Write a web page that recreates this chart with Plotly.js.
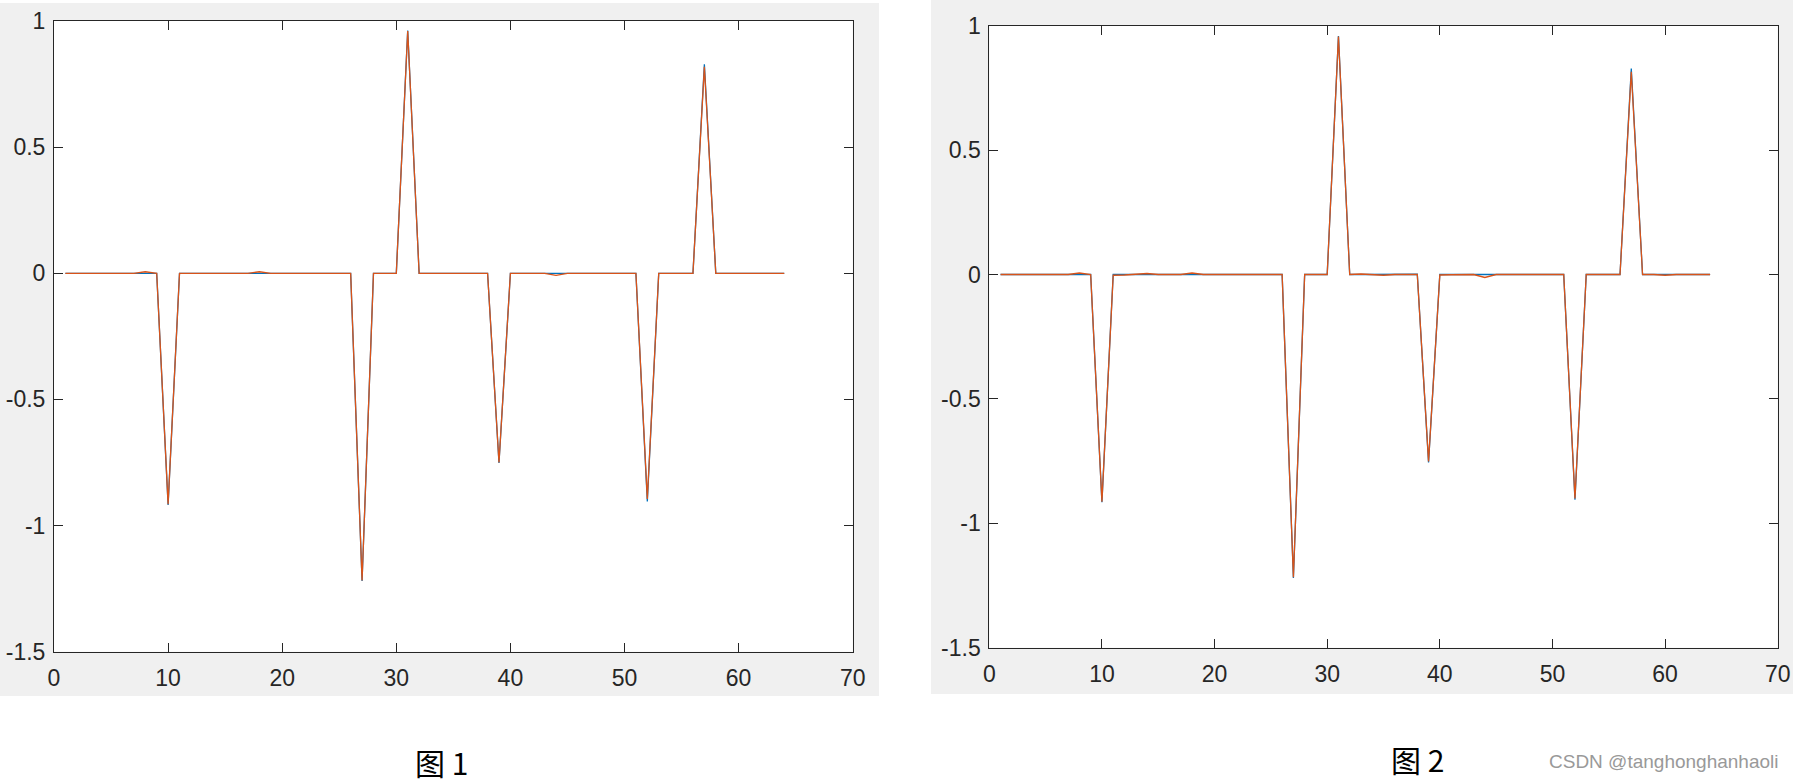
<!DOCTYPE html>
<html>
<head>
<meta charset="utf-8">
<script src="https://cdn.plot.ly/plotly-3.0.1.min.js"></script>
<style>html,body{margin:0;padding:0;background:#fff;}#chart{width:1793px;height:783px;}</style>
</head>
<body>
<div id="chart"></div>
<script>
// ---- data ----
const sampleIndex = [1,2,3,4,5,6,7,8,9,10,11,12,13,14,15,16,17,18,19,20,21,22,23,24,25,26,27,28,29,30,31,32,33,34,35,36,37,38,39,40,41,42,43,44,45,46,47,48,49,50,51,52,53,54,55,56,57,58,59,60,61,62,63,64];

// Figure 1
const fig1Blue = [0,0,0,0,0,0,0,0,0,-0.918,0,0,0,0,0,0,0,0,0,0,0,0,0,0,0,0,-1.22,0,0,0,0.962,0,0,0,0,0,0,0,-0.752,0,0,0,0,0,0,0,0,0,0,0,0,-0.905,0,0,0,0,0.828,0,0,0,0,0,0,0];
const fig1Orange = [0,0,0,0,0,0,0,0.006,0,-0.915,0,0,0,0,0,0,0,0.006,0,0,0,0,0,0,0,0,-1.218,0,0,0,0.96,0,0,0,0,0,0,0,-0.75,0,0,0,0,-0.008,0,0,0,0,0,0,0,-0.895,0,0,0,0,0.818,0,0,0,0,0,0,0];

// Figure 2
const fig2Blue = [0,0,0,0,0,0,0,0.002,0,-0.915,0,0,0,0,0,0,0,0,0,0,0,0,0,0,0,0,-1.22,0,0,0,0.958,0,0,0,0,0,0,0.001,-0.755,0,0,0,0,-0.002,0,0,0,0,0,0,0,-0.905,0,0,0,0,0.828,0,0,0,0,0,0,0];
const fig2Orange = [0,0,0,0,0,0,0,0.006,0,-0.913,-0.003,-0.002,0,0.004,0,0,0,0.006,0,0,0,0,0,0,0,0,-1.217,0,0,0,0.956,0,0.002,0,-0.003,0,0,0,-0.751,-0.002,-0.001,0,0,-0.012,0,0,0,0,0,0,0,-0.9,0,0,0,0,0.815,0,0,-0.003,0,0,0,0];

// ticks
const xTickVals = [0,10,20,30,40,50,60,70];
const xTickText = ["0","10","20","30","40","50","60","70"];
const yTickVals = [-1.5,-1,-0.5,0,0.5,1];
const yTickText = ["-1.5","-1","-0.5","0","0.5","1"];

// captions
const captions = ["图 1","图 2"];
const watermark = "CSDN @tanghonghanhaoli";

// ---- style ----
const W = 1793, H = 783;
const BLUE = "#0072BD", ORANGE = "#D95319", AX = "#262626", GRAY = "#F0F0F0";
const px = v => v / W;
const py = v => (H - v) / H;

const traces = [
  {x: sampleIndex, y: fig1Blue, xaxis: "x", yaxis: "y", mode: "lines", line: {color: BLUE, width: 1.3}, hoverinfo: "skip"},
  {x: sampleIndex, y: fig1Orange, xaxis: "x", yaxis: "y", mode: "lines", line: {color: ORANGE, width: 1.3}, hoverinfo: "skip"},
  {x: sampleIndex, y: fig2Blue, xaxis: "x2", yaxis: "y2", mode: "lines", line: {color: BLUE, width: 1.3}, hoverinfo: "skip"},
  {x: sampleIndex, y: fig2Orange, xaxis: "x2", yaxis: "y2", mode: "lines", line: {color: ORANGE, width: 1.3}, hoverinfo: "skip"}
];

function xAx(domain, anchor) {
  return {
    domain: domain, anchor: anchor, range: [0, 70],
    tickmode: "array", tickvals: xTickVals, ticktext: xTickText,
    ticks: "inside", ticklen: 9, tickwidth: 1, tickcolor: AX,
    showline: true, linecolor: AX, linewidth: 1, mirror: "ticks",
    showgrid: false, zeroline: false, ticklabelstandoff: 6,
    tickfont: {family: "Liberation Sans, Arial, sans-serif", size: 23, color: AX},
    fixedrange: true
  };
}
function yAx(domain, anchor) {
  return {
    domain: domain, anchor: anchor, range: [-1.5, 1],
    tickmode: "array", tickvals: yTickVals, ticktext: yTickText,
    ticks: "inside", ticklen: 9, tickwidth: 1, tickcolor: AX,
    showline: true, linecolor: AX, linewidth: 1, mirror: "ticks",
    showgrid: false, zeroline: false, ticklabelstandoff: 3,
    tickfont: {family: "Liberation Sans, Arial, sans-serif", size: 23, color: AX},
    fixedrange: true
  };
}

const layout = {
  width: W, height: H,
  margin: {l: 0, r: 0, t: 0, b: 0, pad: 0},
  paper_bgcolor: "#ffffff",
  plot_bgcolor: "#ffffff",
  showlegend: false,
  xaxis: xAx([px(54), px(852.7)], "y"),
  yaxis: yAx([py(651.7), py(21)], "x"),
  xaxis2: xAx([px(989.3), px(1777.7)], "y2"),
  yaxis2: yAx([py(647.7), py(25.7)], "x2"),
  shapes: [
    {type: "rect", xref: "paper", yref: "paper", x0: 0, x1: px(879), y0: py(696), y1: py(3), fillcolor: GRAY, line: {width: 0}, layer: "below"},
    {type: "rect", xref: "paper", yref: "paper", x0: px(931), x1: 1, y0: py(694), y1: 1, fillcolor: GRAY, line: {width: 0}, layer: "below"},
    {type: "rect", xref: "paper", yref: "paper", x0: px(54), x1: px(852.7), y0: py(651.7), y1: py(21), fillcolor: "#ffffff", line: {width: 0}, layer: "below"},
    {type: "rect", xref: "paper", yref: "paper", x0: px(989.3), x1: px(1777.7), y0: py(647.7), y1: py(25.7), fillcolor: "#ffffff", line: {width: 0}, layer: "below"}
  ],
  annotations: [
    {text: captions[0], xref: "paper", yref: "paper", x: px(441), y: py(762), xanchor: "center", yanchor: "middle", showarrow: false, borderpad: 0,
     font: {family: "Noto Sans CJK SC, sans-serif", size: 30, color: "#000"}},
    {text: captions[1], xref: "paper", yref: "paper", x: px(1417), y: py(759), xanchor: "center", yanchor: "middle", showarrow: false, borderpad: 0,
     font: {family: "Noto Sans CJK SC, sans-serif", size: 30, color: "#000"}},
    {text: watermark, xref: "paper", yref: "paper", x: px(1664), y: py(761), xanchor: "center", yanchor: "middle", showarrow: false,
     font: {family: "Liberation Sans, Arial, sans-serif", size: 19, color: "#999999"}}
  ]
};

Plotly.newPlot("chart", traces, layout, {displayModeBar: false, staticPlot: true});
</script>
</body>
</html>
